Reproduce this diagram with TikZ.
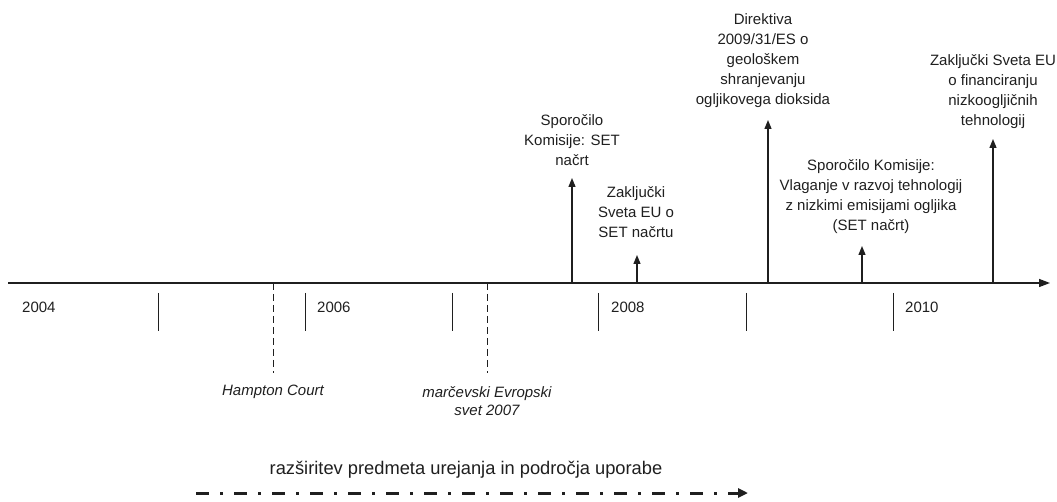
\documentclass[tikz,border=0pt]{standalone}
\usepackage{fontspec}
\setmainfont{Liberation Sans}
\usetikzlibrary{arrows.meta}
\definecolor{ink}{gray}{0.12}
\begin{document}
\begin{tikzpicture}[x=1pt,y=-1pt,
  every node/.style={text=ink},
  axisline/.style={draw=ink,line width=1.3pt,-{Triangle[length=11pt,width=8pt]}},
  yeartick/.style={draw=ink,line width=1pt},
  evarrow/.style={draw=ink,line width=1.3pt,-{Triangle[length=9pt,width=7pt]}},
  evdash/.style={draw=ink,line width=1pt,dash pattern=on 7pt off 4pt},
  lbl/.style={inner sep=0pt,align=center,font=\fontsize{15}{20}\selectfont},
  ital/.style={inner sep=0pt,align=center,font=\fontsize{15}{18.5}\selectfont\itshape},
  yearlbl/.style={inner sep=0pt,anchor=west,font=\fontsize{15}{18}\selectfont},
  scopearrow/.style={draw=ink,line width=3pt,dash pattern=on 13pt off 11pt on 3pt off 11pt,-{Triangle[length=10pt,width=9pt]}}
]
\useasboundingbox (0,0) rectangle (1057,502);
% axis
\coordinate (ax0) at (8,283);
\coordinate (ax1) at (1050,283);
\draw[axisline] (ax0) -- (ax1);
% year ticks
\foreach \n/\x in {t1/158,t2/305,t3/452,t4/598,t5/746,t6/893}{
  \coordinate (\n a) at (\x,293);
  \coordinate (\n b) at (\x,331);
  \draw[yeartick] (\n a) -- (\n b);
}
\node[yearlbl] (y2004) at (22,307) {2004};
\node[yearlbl] (y2006) at (317,307) {2006};
\node[yearlbl] (y2008) at (611,307) {2008};
\node[yearlbl] (y2010) at (905,307) {2010};
% dashed events below
\node[ital] (hc) at (273,392) {Hampton Court};
\node[ital] (ms) at (487,401) {marčevski Evropski\\svet 2007};
\coordinate (hcb) at (273,283);
\coordinate (msb) at (487,283);
\draw[evdash] (hcb) -- (273,373);
\draw[evdash] (msb) -- (487,373);
% events above
\node[lbl] (e1) at (572,140) {Sporočilo\\Komisije: SET\\načrt};
\node[lbl] (e2) at (636,212.5) {Zaključki\\Sveta EU o\\SET načrtu};
\node[lbl] (e3) at (763,61) {Direktiva\\2009/31/ES o\\geološkem\\shranjevanju\\ogljikovega dioksida};
\node[lbl] (e4) at (871,197) {Sporočilo Komisije:\\Vlaganje v razvoj tehnologij\\z nizkimi emisijami ogljika\\(SET načrt)};
\node[lbl] (e5) at (993,91.5) {Zaključki Sveta EU\\o financiranju\\nizkoogljičnih\\tehnologij};
\foreach \n/\x/\t in {1/572/178,2/637/255,3/768/120,4/862/246,5/993/139}{
  \coordinate (b\n) at (\x,283);
  \coordinate (p\n) at (\x,\t);
  \draw[evarrow] (b\n) -- (p\n);
}
% scope arrow
\node[inner sep=0pt,font=\fontsize{18.3}{22}\selectfont] (scope) at (466,470) {razširitev predmeta urejanja in področja uporabe};
\coordinate (s0) at (196,493);
\coordinate (s1) at (748,493);
\draw[scopearrow] (s0) -- (s1);
\end{tikzpicture}
\end{document}
